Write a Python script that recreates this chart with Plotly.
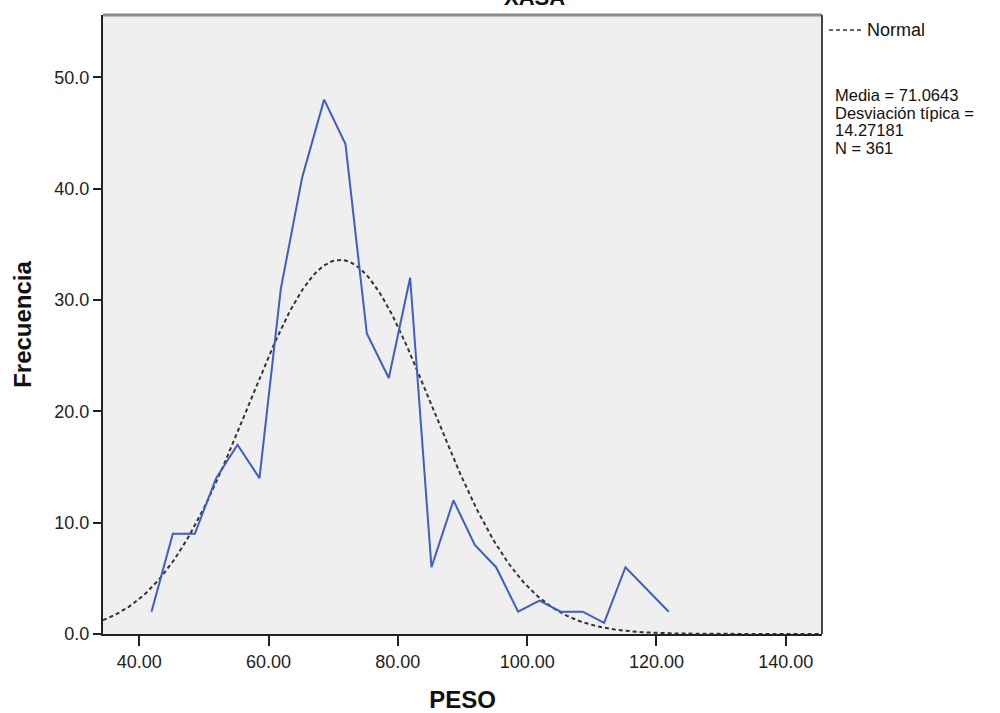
import numpy as np
import plotly.graph_objects as go

# Frequency polygon data (bin midpoints of PESO and counts)
peso = [41.9, 45.2, 48.6, 51.9, 55.2, 58.6, 61.9, 65.2, 68.6, 71.9, 75.2, 78.6,
        81.9, 85.2, 88.6, 91.9, 95.2, 98.6, 101.9, 105.2, 108.6, 111.9, 115.2, 121.9]
frecuencia = [2, 9, 9, 14, 17, 14, 31, 41, 48, 44, 27, 23,
              32, 6, 12, 8, 6, 2, 3, 2, 2, 1, 6, 2]

# Summary statistics shown in the chart
media = 71.0643
desviacion = 14.27181
n_total = 361
ancho_bin = 3.33

x_range = [34.4, 145.6]
y_range = [0, 55.6]
x_ticks = [40, 60, 80, 100, 120, 140]
x_tick_labels = ["40.00", "60.00", "80.00", "100.00", "120.00", "140.00"]
y_ticks = [0, 10, 20, 30, 40, 50]
y_tick_labels = ["0.0", "10.0", "20.0", "30.0", "40.0", "50.0"]

# Fitted normal curve (scaled to counts)
xn = np.linspace(x_range[0], x_range[1], 300)
yn = n_total * ancho_bin * np.exp(-0.5 * ((xn - media) / desviacion) ** 2) / (desviacion * np.sqrt(2 * np.pi))

FONT = "Arial, Liberation Sans, sans-serif"

fig = go.Figure()
fig.add_trace(go.Scatter(x=xn, y=yn, mode="lines",
                         line=dict(color="#333333", width=2, dash="4px,3px"),
                         showlegend=False, hoverinfo="skip"))
fig.add_trace(go.Scatter(x=peso, y=frecuencia, mode="lines",
                         line=dict(color="#3d5fc0", width=2),
                         showlegend=False))

fig.update_layout(
    width=1000, height=713,
    margin=dict(l=103, r=178, t=15, b=79, autoexpand=False),
    paper_bgcolor="white",
    plot_bgcolor="#efefef",
    font=dict(family=FONT, color="#222222", size=18),
    xaxis=dict(range=x_range, tickvals=x_ticks, ticktext=x_tick_labels, automargin=False,
               showgrid=False, zeroline=False, showline=True, linecolor="#222222",
               linewidth=2, mirror=False, ticks="outside", ticklen=10, tickwidth=2,
               tickcolor="#222222", tickfont=dict(size=18, color="#222222"),
               title=dict(text="<b>PESO</b>", font=dict(size=24, color="#111111"), standoff=22)),
    yaxis=dict(range=y_range, tickvals=y_ticks, ticktext=y_tick_labels, automargin=False,
               showgrid=False, zeroline=False, showline=True, linecolor="#222222",
               linewidth=2, mirror=False, ticks="outside", ticklen=8, tickwidth=2,
               tickcolor="#222222", tickfont=dict(size=18, color="#222222"),
               title=dict(text="<b>Frecuencia</b>", font=dict(size=24, color="#111111"), standoff=16)),
)

# top and right frame
fig.add_shape(type="line", xref="paper", yref="paper", x0=0, x1=1, y0=1, y1=1,
              line=dict(color="#888888", width=3))
fig.add_shape(type="line", xref="paper", yref="paper", x0=1, x1=1, y0=0, y1=1,
              line=dict(color="#444444", width=2))

# Partially visible title (cut off at the top edge, as in the reference)
fig.add_annotation(xref="paper", yref="paper", x=0.60, y=1.0, yanchor="bottom",
                   yshift=3, text="<b>XASA</b>", showarrow=False,
                   font=dict(size=22, color="#111111"))

# Legend for normal curve
fig.add_shape(type="line", xref="paper", yref="paper", x0=1.0097, x1=1.0556,
              y0=0.9758, y1=0.9758, line=dict(color="#333333", width=1.5, dash="4px,3px"))
fig.add_annotation(xref="paper", yref="paper", x=1.06, y=0.9758, xanchor="left",
                   yanchor="middle", text="Normal", showarrow=False,
                   font=dict(size=18, color="#111111"))

stats_lines = [f"Media = {media:.4f}", "Desviación típica =", f"{desviacion:.5f}", f"N = {n_total}"]
for i, line in enumerate(stats_lines):
    fig.add_annotation(xref="paper", yref="paper", x=1.0, xshift=12, y=(634 - 95 - 17.5 * i) / 619,
                       xanchor="left", yanchor="middle", align="left", text=line,
                       showarrow=False, borderpad=0, font=dict(size=16.5, color="#111111"))

fig.write_html("out.html")
